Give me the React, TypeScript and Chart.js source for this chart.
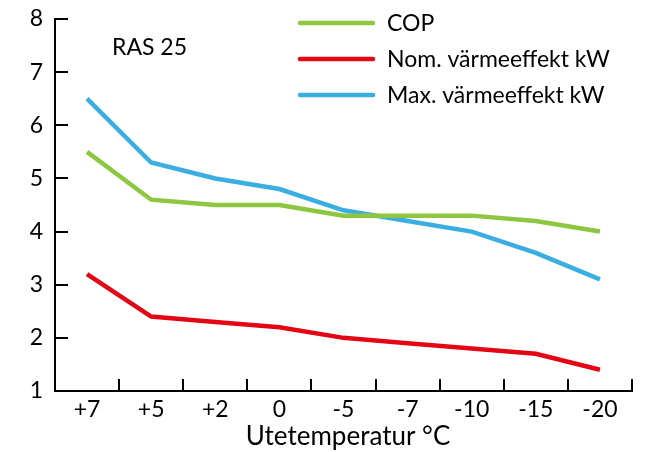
import React, { useEffect, useRef } from "react";
import { Chart, registerables } from "chart.js";

Chart.register(...registerables);

const categories = ["+7", "+5", "+2", "0", "-5", "-7", "-10", "-15", "-20"];
const copValues = [5.5, 4.6, 4.5, 4.5, 4.3, 4.3, 4.3, 4.2, 4.0];
const nomValues = [3.2, 2.4, 2.3, 2.2, 2.0, 1.9, 1.8, 1.7, 1.4];
const maxValues = [6.5, 5.3, 5.0, 4.8, 4.4, 4.2, 4.0, 3.6, 3.1];
const seriesLabels = ["COP", "Nom. värmeeffekt kW", "Max. värmeeffekt kW"];
const seriesColors = ["#8dc63f", "#e30613", "#3aaee0"];
const yTicks = [1, 2, 3, 4, 5, 6, 7, 8];
const chartTitle = "RAS 25";
const xTitle = "Utetemperatur °C";

const FONT = "Lato";

const overlayPlugin = {
  id: "overlay",
  afterDraw(chart: any) {
    const ctx = chart.ctx;
    const x = chart.scales.x;
    const y = chart.scales.y;
    ctx.save();
    ctx.strokeStyle = "#000";
    ctx.lineWidth = 2;
    yTicks.forEach((v) => {
      const py = Math.round(y.getPixelForValue(v));
      if (v === y.min) return;
      ctx.beginPath();
      ctx.moveTo(x.left, py);
      ctx.lineTo(x.left + 13, py);
      ctx.stroke();
    });
    categories.forEach((_, i) => {
      const px = Math.round(x.getPixelForValue(i + 0.5));
      ctx.beginPath();
      ctx.moveTo(px, y.bottom);
      ctx.lineTo(px, y.bottom - 12);
      ctx.stroke();
    });
    ctx.fillStyle = "#000";
    ctx.font = `23px ${FONT}`;
    ctx.textAlign = "left";
    ctx.textBaseline = "middle";
    ctx.fillText(chartTitle, 112, 48);
    chart.data.datasets.forEach((ds: any, i: number) => {
      const ly = 23 + i * 36;
      ctx.strokeStyle = ds.borderColor;
      ctx.lineWidth = 4.5;
      ctx.lineCap = "round";
      ctx.beginPath();
      ctx.moveTo(300, ly);
      ctx.lineTo(373, ly);
      ctx.stroke();
      ctx.fillStyle = "#000";
      ctx.font = `23px ${FONT}`;
      ctx.fillText(ds.label, 387, ly + 1);
    });
    ctx.font = `26px ${FONT}`;
    ctx.textAlign = "center";
    ctx.fillText(xTitle, 348, 437);
    ctx.restore();
  },
};

export default function App() {
  const ref = useRef<HTMLCanvasElement | null>(null);
  useEffect(() => {
    if (!ref.current) return;
    const data = [copValues, nomValues, maxValues];
    const chart = new Chart(ref.current, {
      type: "line",
      data: {
        labels: categories,
        datasets: data.map((d, i) => ({
          label: seriesLabels[i],
          data: d,
          borderColor: seriesColors[i],
          backgroundColor: seriesColors[i],
          borderWidth: 4.5,
          pointRadius: 0,
          tension: 0,
          fill: false,
        })),
      },
      options: {
        animation: false,
        responsive: true,
        maintainAspectRatio: false,
        layout: { padding: { top: 19, right: 27, left: 0, bottom: 0 } },
        plugins: { legend: { display: false }, tooltip: { enabled: false } },
        scales: {
          x: {
            offset: true,
            border: { display: true, color: "#000", width: 2 },
            grid: { display: false, drawTicks: false },
            ticks: { color: "#000", font: { family: FONT, size: 23 }, padding: 5, maxRotation: 0 },
            afterFit: (s: any) => { s.height = 61; s.paddingLeft = 0; s.paddingRight = 0; },
          },
          y: {
            min: 1,
            max: 8,
            border: { display: true, color: "#000", width: 2 },
            grid: { display: false, drawTicks: false },
            ticks: { stepSize: 1, color: "#000", font: { family: FONT, size: 23 }, padding: 12 },
            afterFit: (s: any) => { s.width = 55; s.paddingTop = 0; s.paddingBottom = 0; },
          },
        },
      },
      plugins: [overlayPlugin],
    });
    return () => chart.destroy();
  }, []);
  return (
    <div style={{ position: "fixed", left: 0, top: 0, width: 659, height: 452, background: "#fff" }}>
      <canvas ref={ref} />
    </div>
  );
}
